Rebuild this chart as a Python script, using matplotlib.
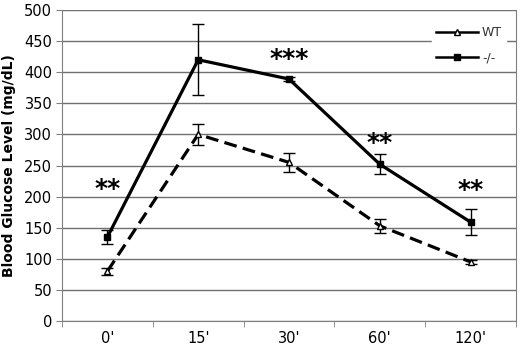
import matplotlib
matplotlib.use("Agg")
from matplotlib import pyplot as plt
from matplotlib.lines import Line2D
import numpy as np

# data
times = ["0'", "15'", "30'", "60'", "120'"]
wt_mean = [80, 300, 255, 153, 95]
wt_err = [6, 17, 15, 11, 3]
ko_mean = [135, 420, 389, 252, 159]
ko_err = [12, 57, 3, 16, 21]
stars = ["**", None, "***", "**", "**"]
star_y = [213, None, 421, 286, 210]

fig = plt.figure(figsize=(5.2, 3.5), dpi=100)
ax = fig.add_axes([62 / 520, 29 / 350, 454 / 520, 311 / 350])

x = np.arange(len(times))

ax.errorbar(x, wt_mean, yerr=wt_err, color="black", lw=2.3, dashes=(4, 2),
            marker="^", ms=5, mfc="white", mec="black", mew=1,
            ecolor="black", elinewidth=1, capsize=4, capthick=1, zorder=3)
ax.errorbar(x, ko_mean, yerr=ko_err, color="black", lw=2.3,
            marker="s", ms=5, mfc="black", mec="black",
            ecolor="black", elinewidth=1, capsize=4, capthick=1, zorder=3)

for xi, s, sy in zip(x, stars, star_y):
    if s:
        ax.text(xi, sy, s, ha="center", va="center", fontsize=18, fontweight="bold")

ax.set_xlim(-0.5, len(times) - 0.5)
ax.set_ylim(0, 500)
ax.set_yticks(range(0, 501, 50))
ax.set_xticks(x)
ax.set_xticklabels(times)
ax.set_xticks(np.arange(-0.5, len(times), 1), minor=True)
ax.tick_params(axis="x", which="major", length=0, pad=7, labelsize=10.5)
ax.tick_params(axis="x", which="minor", length=4, direction="out", color="#808080")
ax.tick_params(axis="y", length=4, direction="out", color="#808080", labelsize=10.5, pad=3)

ax.yaxis.grid(True, color="#707070", lw=1)
ax.set_axisbelow(True)
for side in ["left", "bottom", "right"]:
    ax.spines[side].set_color("#808080")
ax.spines["top"].set_visible(False)

ax.set_ylabel("Blood Glucose Level (mg/dL)", fontweight="bold", fontsize=10, labelpad=6)

handles = [
    Line2D([], [], color="black", lw=1.8, marker="^", ms=5, mfc="white", mec="black", mew=1),
    Line2D([], [], color="black", lw=1.8, marker="s", ms=5, mfc="black", mec="black"),
]
leg = ax.legend(handles, ["WT", "-/-"], loc="upper left", bbox_to_anchor=(0.815, 0.96),
                frameon=True, fontsize=9, handlelength=3.4, handletextpad=0.3,
                borderpad=0.3, labelspacing=1.0, borderaxespad=0)
leg.get_frame().set_edgecolor("white")
leg.get_frame().set_alpha(1)
leg.get_frame().set_boxstyle("square", pad=0)
for t in leg.get_texts():
    t.set_color("#333333")

fig.savefig("out.png", dpi=100)
